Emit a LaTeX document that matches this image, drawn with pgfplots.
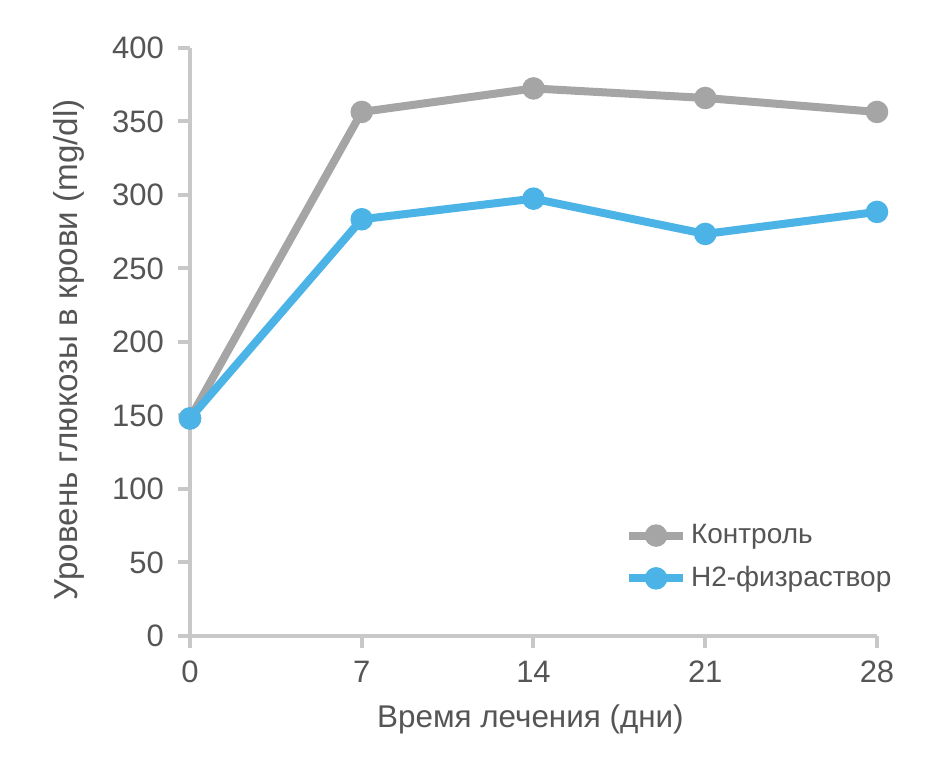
\documentclass[border=0pt]{standalone}
\usepackage{pgfplots}
\pgfplotsset{compat=1.18}
\usepackage{fontspec}
\setmainfont{Liberation Sans}
\definecolor{ctrl}{HTML}{A5A5A5}
\definecolor{htwo}{HTML}{4BB3E6}
\definecolor{axgray}{HTML}{C8C8C8}
\definecolor{txt}{HTML}{555555}
\begin{document}
\begin{tikzpicture}
\path[use as bounding box] (-95pt,-64pt) rectangle (374.5pt,318pt);
\begin{axis}[
    scale only axis,
    width=343.5pt, height=294pt,
    xmin=0, xmax=28, ymin=0, ymax=400,
    xtick={0,7,14,21,28},
    ytick={0,50,...,400},
    axis x line*=bottom, axis y line*=left,
    axis line style={-, axgray, line width=2pt},
    tick style={axgray, line width=2pt},
    tick align=outside,
    major tick length=6pt,
    ticklabel style={font=\fontsize{15.5}{18}\selectfont, text=txt},
    yticklabel style={xshift=-3.5pt},
    xticklabel style={yshift=-3pt},
    /pgf/number format/assume math mode=true,
    /pgf/number format/1000 sep=,
    xlabel={Время лечения (дни)},
    ylabel={Уровень глюкозы в крови (mg/dl)},
    xlabel style={font=\fontsize{15.7}{18}\selectfont, text=txt,
        at={(axis description cs:0.4956,-0.155)}, anchor=base},
    ylabel style={font=\fontsize{16.6}{18}\selectfont, text=txt,
        at={(axis description cs:-0.176,0.487)}, anchor=center, rotate=0},
    clip=false,
    legend style={at={(0.624,0.204)}, anchor=north west, draw=none, fill=none,
        font=\fontsize{14}{16}\selectfont, text=txt, row sep=6pt},
    legend cell align=left,
    legend image code/.code={\draw[mark repeat=2,mark phase=2,#1] plot coordinates {(0pt,0pt) (13.5pt,0pt) (27pt,0pt)};},
]
\addplot[ctrl, line width=4pt, mark=*, mark size=3.6pt]
    coordinates {(0,148) (7,356.5) (14,372.5) (21,366) (28,356.5)};
\addplot[htwo, line width=4pt, mark=*, mark size=3.6pt]
    coordinates {(0,148) (7,283.5) (14,297.5) (21,273.5) (28,288.5)};
\legend{Контроль, H2-физраствор}
\end{axis}
\end{tikzpicture}
\end{document}
